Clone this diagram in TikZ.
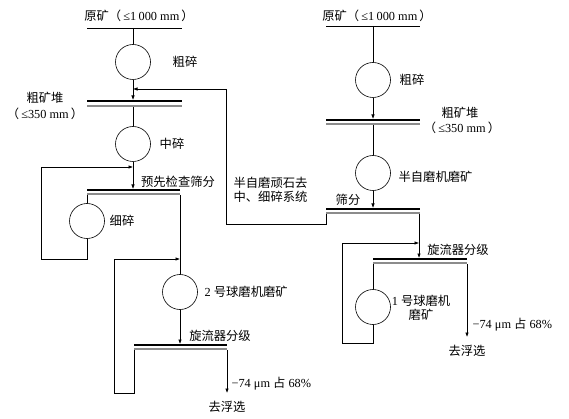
\documentclass[tikz,border=0pt]{standalone}
\usepackage{fontspec}
\setmainfont{Liberation Serif}
\newfontfamily\cjk{Noto Sans CJK SC}
\newcommand\zh[1]{{\cjk #1}}
\usetikzlibrary{arrows.meta}

\begin{document}
\begin{tikzpicture}[x=1pt,y=-1pt,
  font=\fontsize{12.3}{14}\selectfont,
  line width=0.6pt,
  mill/.style={circle,draw,minimum size=35pt,inner sep=0pt},
  flow/.style={-{Latex[length=4.5pt,width=3.5pt]}},
  bar/.style={line width=2.2pt},
  barlow/.style={line width=1.3pt,black!45}]
\useasboundingbox (0,0) rectangle (569,419);

\draw (139,16) node (rawL) {\zh{原矿（}\,≤1\hspace{2.5pt}000 mm\,\zh{）}} ;
\draw (87,28) -- (182,28) ;
\coordinate (feedL) at (133,28) ;
\draw (133,62) node[mill] (crushL) {} ;
\draw (185,62) node (crushLt) {\zh{粗碎}} ;
\draw (feedL) to (crushL) ;

\draw[bar] (87,101) -- (182,101) ;
\draw[barlow] (87,106) -- (182,106) ;
\coordinate (pileLin) at (133,100) ;
\coordinate (pileLout) at (133,107) ;
\draw (45,98) node (pileLt) {\zh{粗矿堆}} ;
\draw (45,114) node (pileLs) {\zh{（}\,≤350 mm\,\zh{）}} ;
\draw[flow] (crushL) to (pileLin) ;

\draw (133,144) node[mill] (midL) {} ;
\draw (172,144) node (midLt) {\zh{中碎}} ;
\draw (pileLout) to (midL) ;

\draw[bar] (87,190) -- (180,190) ;
\draw[barlow] (87,194) -- (180,194) ;
\coordinate (preIn) at (133,189) ;
\coordinate (preA) at (87,195) ;
\coordinate (preB) at (180,195) ;
\coordinate (preBack) at (133,167) ;
\draw (178,182) node (preT) {\zh{预先检查筛分}} ;
\draw[flow] (midL) to (preIn) ;

\draw (87,221) node[mill] (fineL) {} ;
\draw (122,221) node (fineLt) {\zh{细碎}} ;
\draw (preA) to (fineL) ;
\draw[flow] (fineL) -- (87,259) -| (41,167) -- (preBack) ;

\draw (180,292) node[mill] (ballL) {} ;
\draw (201,292) node[anchor=west] (ballLt) {2 \zh{号球磨机磨矿}} ;
\coordinate (ballBack) at (180,259) ;
\draw (preB) to (ballL) ;

\draw[bar] (134,345) -- (227,345) ;
\draw[barlow] (134,349) -- (227,349) ;
\coordinate (cycLin) at (180,344) ;
\coordinate (cycLa) at (134,350) ;
\coordinate (cycLb) at (227,350) ;
\coordinate (outL) at (227,393) ;
\draw (220,336) node (cycLt) {\zh{旋流器分级}} ;
\draw[flow] (ballL) to (cycLin) ;
\draw[flow] (cycLa) -- (134,393) -| (114,259) -- (ballBack) ;
\draw[flow] (cycLb) to (outL) ;
\draw (228,384) node[anchor=west] (sizeL) {−74 μm \zh{占} 68\%} ;
\draw (227,407) node (floatL) {\zh{去浮选}} ;

\draw (377,16) node (rawR) {\zh{原矿（}\,≤1\hspace{2.5pt}000 mm\,\zh{）}} ;
\draw (326,26) -- (420,26) ;
\coordinate (feedR) at (373,26) ;
\draw (373,80) node[mill] (crushR) {} ;
\draw (412,80) node (crushRt) {\zh{粗碎}} ;
\draw (feedR) to (crushR) ;

\draw[bar] (326,120) -- (420,120) ;
\draw[barlow] (326,124) -- (420,124) ;
\coordinate (pileRin) at (373,119) ;
\coordinate (pileRout) at (373,125) ;
\draw (460,113) node (pileRt) {\zh{粗矿堆}} ;
\draw (462,128) node (pileRs) {\zh{（}\,≤350 mm\,\zh{）}} ;
\draw[flow] (crushR) to (pileRin) ;

\draw (373,173) node[mill] (sagR) {} ;
\draw (395,177) node[anchor=west] (sagRt) {\zh{半自磨机磨矿}} ;
\draw (pileRout) to (sagR) ;

\draw[bar] (326,209) -- (420,209) ;
\draw[barlow] (326,213) -- (420,213) ;
\coordinate (sieveIn) at (373,208) ;
\coordinate (sieveA) at (326,214) ;
\coordinate (sieveB) at (419,214) ;
\coordinate (pebBack) at (133,89) ;
\draw (348,200) node (sieveT) {\zh{筛分}} ;
\draw[flow] (sagR) to (sieveIn) ;
\draw[flow] (sieveA) -- (326,224) -| (226,89) -- (pebBack) ;
\draw (230,190) node[anchor=west,align=left] (pebT) {\zh{半自磨顽石去}\\[0pt]\zh{中、细碎系统}} ;

\draw[bar] (373,259) -- (467,259) ;
\draw[barlow] (373,263) -- (467,263) ;
\coordinate (cycRin) at (419,258) ;
\coordinate (cycRa) at (373,264) ;
\coordinate (cycRb) at (467,264) ;
\coordinate (cycRback) at (419,243) ;
\coordinate (outR) at (467,337) ;
\draw (458,250) node (cycRt) {\zh{旋流器分级}} ;
\draw[flow] (sieveB) to (cycRin) ;

\draw (373,307) node[mill] (ballR) {} ;
\draw (421,308) node[align=center] (ballRt) {1 \zh{号球磨机}\\\zh{磨矿}} ;
\draw (cycRa) to (ballR) ;
\draw[flow] (ballR) -- (373,343) -| (342,243) -- (cycRback) ;
\draw[flow] (cycRb) to (outR) ;
\draw (469,325) node[anchor=west] (sizeR) {−74 μm \zh{占} 68\%} ;
\draw (467,351) node (floatR) {\zh{去浮选}} ;

\end{tikzpicture}
\end{document}
